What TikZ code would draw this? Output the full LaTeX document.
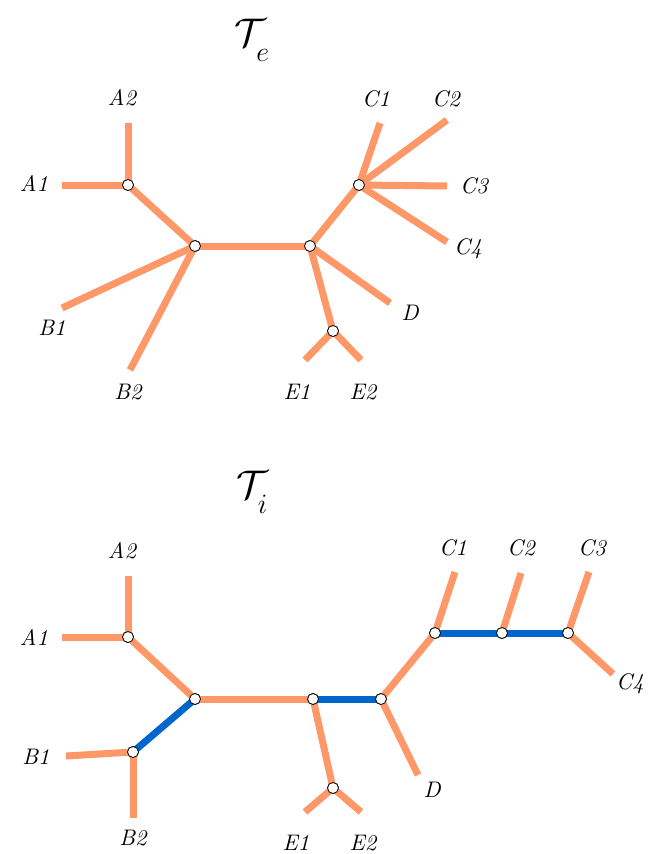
\documentclass[tikz,border=0pt]{standalone}
\usepackage{fix-cm}
\usepackage{amsmath}
\usepackage{fontspec}
\usepackage{xcolor}
\usepackage{tikz}
\usetikzlibrary{positioning}

\definecolor{branch}{RGB}{255,152,104}
\definecolor{moved}{RGB}{0,102,204}

\begin{document}
\begin{tikzpicture}[
            x=1pt, y=-1pt,
            edge/.style={line width=7pt, color=branch},
            hot/.style={line width=7pt, color=moved},
            junc/.style={circle, draw=black, fill=white, line width=0.8pt,
                    minimum size=11pt, inner sep=0pt},
            lbl/.style={font=\itshape, inner sep=0.5pt, scale=2.25},
            ttl/.style={font=\fontsize{40}{42}\selectfont}
        ]
        \useasboundingbox (0,0) rectangle (653,854);

        % ---------------------------------------------------------------
        % TOP TREE
        % ---------------------------------------------------------------
        \node[ttl] (te) at (252,40) {$\mathcal{T}_{\lower9pt\hbox{$\scriptstyle e$}}$};

        % junctions
        \node[junc] (ta) at (128,185) {};
        \node[junc] (tr1) at (195,246) {};
        \node[junc] (tr2) at (310,246) {};
        \node[junc] (tc) at (359,185) {};
        \node[junc] (te1) at (333,331) {};

        % leaf ends
        \coordinate (tA2) at (128,123);
        \coordinate (tA1) at (62,185);
        \coordinate (tB1) at (62,308);
        \coordinate (tB2) at (130,370);
        \coordinate (tC1) at (380,123);
        \coordinate (tC2) at (447,120);
        \coordinate (tC3) at (447,186);
        \coordinate (tC4) at (447,242);
        \coordinate (tD) at (390,303);
        \coordinate (tE1) at (305,360);
        \coordinate (tE2) at (361,360);

        % edges
        \draw[edge] (ta.center) -- (tA2);
        \draw[edge] (ta.center) -- (tA1);
        \draw[edge] (ta.center) -- (tr1.center);
        \draw[edge] (tr1.center) -- (tB1);
        \draw[edge] (tr1.center) -- (tB2);
        \draw[edge] (tr1.center) -- (tr2.center);
        \draw[edge] (tr2.center) -- (tc.center);
        \draw[edge] (tc.center) -- (tC1);
        \draw[edge] (tc.center) -- (tC2);
        \draw[edge] (tc.center) -- (tC3);
        \draw[edge] (tc.center) -- (tC4);
        \draw[edge] (tr2.center) -- (tD);
        \draw[edge] (tr2.center) -- (te1.center);
        \draw[edge] (te1.center) -- (tE1);
        \draw[edge] (te1.center) -- (tE2);

        % redraw junctions on top
        \foreach \j in {ta,tr1,tr2,tc,te1}
            \node[junc] at (\j) {};

        % labels
        \node[lbl] at (122,98) {A2};
        \node[lbl] at (34,183) {A1};
        \node[lbl] at (52,328) {B1};
        \node[lbl] at (128,392) {B2};
        \node[lbl] at (376,99) {C1};
        \node[lbl] at (446,99) {C2};
        \node[lbl] at (474,186) {C3};
        \node[lbl] at (468,249) {C4};
        \node[lbl] at (410,313) {D};
        \node[lbl] at (297,392) {E1};
        \node[lbl] at (363,392) {E2};

        % ---------------------------------------------------------------
        % BOTTOM TREE
        % ---------------------------------------------------------------
        \node[ttl] (ti) at (252,492) {$\mathcal{T}_{\lower9pt\hbox{$\scriptstyle i$}}$};

        % junctions
        \node[junc] (ba) at (128,637) {};
        \node[junc] (br1) at (195,699) {};
        \node[junc] (bb) at (133,752) {};
        \node[junc] (br2) at (313,699) {};
        \node[junc] (br3) at (381,699) {};
        \node[junc] (be1) at (333,788) {};
        \node[junc] (bc1) at (435,633) {};
        \node[junc] (bc2) at (502,633) {};
        \node[junc] (bc3) at (568,633) {};

        % leaf ends
        \coordinate (bA2) at (128,576);
        \coordinate (bA1) at (62,637);
        \coordinate (bB1) at (66,756);
        \coordinate (bB2) at (133,818);
        \coordinate (bE1) at (305,812);
        \coordinate (bE2) at (361,812);
        \coordinate (bD) at (418,775);
        \coordinate (bC1) at (455,572);
        \coordinate (bC2) at (521,573);
        \coordinate (bC3) at (589,572);
        \coordinate (bC4) at (613,674);

        % edges
        \draw[edge] (ba.center) -- (bA2);
        \draw[edge] (ba.center) -- (bA1);
        \draw[edge] (ba.center) -- (br1.center);
        \draw[edge] (bb.center) -- (bB1);
        \draw[edge] (bb.center) -- (bB2);
        \draw[edge] (br1.center) -- (br2.center);
        \draw[edge] (br2.center) -- (be1.center);
        \draw[edge] (be1.center) -- (bE1);
        \draw[edge] (be1.center) -- (bE2);
        \draw[edge] (br3.center) -- (bD);
        \draw[edge] (br3.center) -- (bc1.center);
        \draw[edge] (bc1.center) -- (bC1);
        \draw[edge] (bc2.center) -- (bC2);
        \draw[edge] (bc3.center) -- (bC3);
        \draw[edge] (bc3.center) -- (bC4);

        % changed edges
        \draw[hot] (br1.center) -- (bb.center);
        \draw[hot] (br2.center) -- (br3.center);
        \draw[hot] (bc1.center) -- (bc2.center);
        \draw[hot] (bc2.center) -- (bc3.center);

        % redraw junctions on top
        \foreach \j in {ba,br1,bb,br2,br3,be1,bc1,bc2,bc3}
            \node[junc] at (\j) {};

        % labels
        \node[lbl] at (122,551) {A2};
        \node[lbl] at (34,637) {A1};
        \node[lbl] at (36,757) {B1};
        \node[lbl] at (133,838) {B2};
        \node[lbl] at (296,843) {E1};
        \node[lbl] at (363,843) {E2};
        \node[lbl] at (432,790) {D};
        \node[lbl] at (453,548) {C1};
        \node[lbl] at (521,548) {C2};
        \node[lbl] at (592,548) {C3};
        \node[lbl] at (630,684) {C4};

    \end{tikzpicture}
\end{document}
